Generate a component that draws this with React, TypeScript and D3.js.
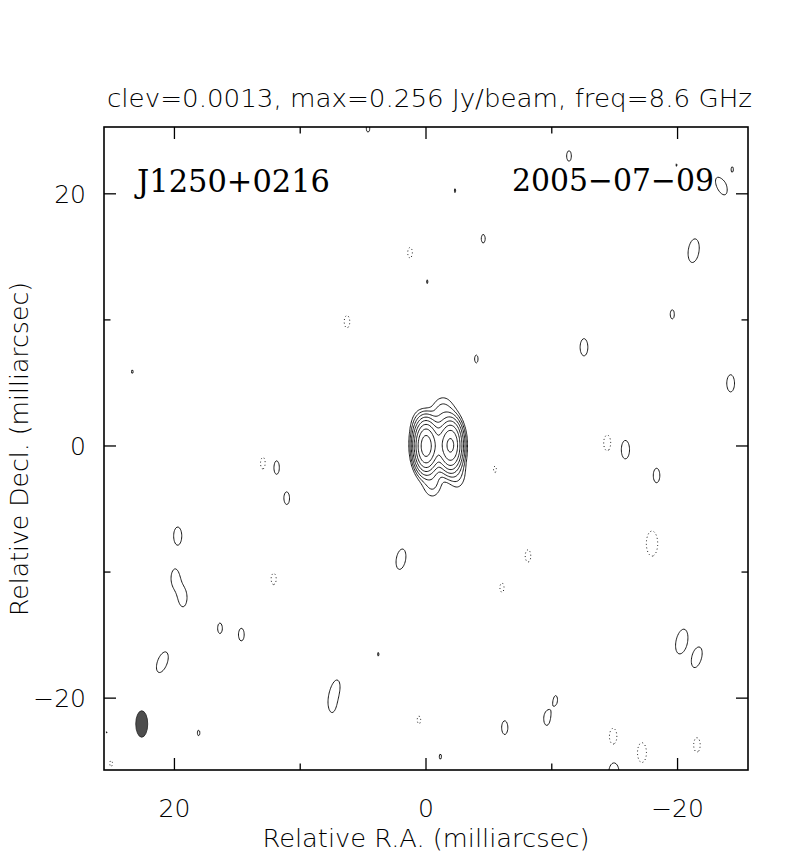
import React, { useMemo } from "react";
import * as d3 from "d3";

const WIDTH = 789;
const HEIGHT = 857;

// Map extents in milliarcsec (RA increases to the left)
const raRange = [25.6, -25.6];
const decRange = [25.3, -25.7];

const title = "clev=0.0013, max=0.256 Jy/beam, freq=8.6 GHz";
const sourceName = "J1250+0216";
const obsDate = "2005\u221207\u221209";
const xLabel = "Relative R.A. (milliarcsec)";
const yLabel = "Relative Decl. (milliarcsec)";

const majorTicks = [20, 0, -20];
const minorTicks = [10, -10];
const tickLabels = ["20", "0", "\u221220"];

// Contour levels: clev * 2^n (Jy/beam)
const clev = 0.0013;
const levelMultipliers = [1, 2, 4, 8, 16, 32, 64, 128];
const negativeMultipliers = [1];

// Restoring beam (mas, deg)
const beamMaj = 2.1;
const beamMin = 0.95;
const beamPA = 0;
const beamPos = [22.6, -22.05];

// Source model components (Jy/beam, mas)
const srcX = [0, -1.95, -0.95, -1.35, -0.5, -2.5, 0.6];
const srcY = [0, 0.05, 0.1, 2.6, -2.8, -2.2, 1.6];
const srcPeak = [0.2535, 0.198, 0.03, 0.0036, 0.0033, 0.0026, 0.002];
const srcMaj = [2.1, 2.1, 2.2, 2.0, 2.0, 2.0, 2.0];
const srcMin = [0.98, 1.0, 1.0, 1.4, 1.2, 1.1, 1.0];
const srcPA = [0, 0, 0, 0, 0, 0, 0];

// Positive residual peaks (mJy/beam)
const posX = [-11.37, -4.55, -21.28, -19.58, -12.56, -24.22, -4.0, -15.85, -18.33, 11.92, 11.07, 19.74, 19.95, 19.32, 1.99, 16.38, 14.68, 20.96, -20.33, -21.53, 7.15, 7.47, -6.26, -9.59, -14.94, -23.45, -24.35, 4.61, -2.31, -0.1, 23.35, 3.79, -1.14, -10.33, 18.08, 25.36, -19.93];
const posY = [23.0, 16.44, 15.49, 10.44, 7.83, 4.97, 6.9, -0.29, -2.34, -1.69, -4.15, -7.14, -10.47, -12.05, -8.98, -14.46, -14.96, -17.15, -15.51, -16.76, -19.19, -20.62, -22.34, -21.65, -26.0, 20.62, 21.94, 25.2, 20.25, 13.03, 5.89, -16.52, -24.64, -20.09, -22.76, -22.76, 22.28];
const posPeak = [1.452, 1.401, 2.279, 1.415, 1.742, 1.742, 1.383, 1.826, 1.603, 1.603, 1.515, 1.791, 1.75, 1.75, 1.982, 1.452, 1.525, 2.071, 2.43, 2.026, 1.6, 1.383, 1.568, 1.515, 2.25, 1.826, 1.336, 1.383, 1.32, 1.32, 1.32, 1.32, 1.336, 1.336, 1.344, 1.336, 1.313];
const posPA = [0, 0, -8, 0, 0, 0, 0, 0, 0, 0, 0, 0, 0, 0, -10, 0, 0, -20, -12, -15, -10, 0, 0, 0, 0, 25, 0, 0, 0, 0, 0, 0, 0, 0, 0, 0, 0];

// Negative residual peaks (magnitudes, mJy/beam)
const negX = [1.27, 6.28, 12.93, -14.41, -5.48, 12.11, -8.11, -6.04, -17.97, 0.56, -14.88, -17.17, -21.54, 25.04];
const negY = [15.33, 9.86, -1.37, 0.24, -1.85, -10.55, -8.72, -11.24, -7.74, -21.73, -23.05, -24.32, -23.71, -25.14];
const negPeak = [1.452, 1.515, 1.546, 1.668, 1.357, 1.478, 1.515, 1.415, 2.43, 1.383, 1.712, 1.92, 1.603, 1.383];

const PLOT = { left: 104, right: 748, top: 127, bottom: 770 };

const GRID_STEP = 0.1;
const GX0 = 26.0;
const GY0 = 26.0;
const NX = 521;
const NY = 526;

function addGauss(values: Float64Array, cx: number, cy: number, peak: number, maj: number, min: number, paDeg: number) {
  const sMaj = maj / 2.35482;
  const sMin = min / 2.35482;
  const th = (paDeg * Math.PI) / 180;
  const s = Math.sin(th);
  const c = Math.cos(th);
  const r = 5 * sMaj;
  const i0 = Math.max(0, Math.floor((GX0 - cx - r) / GRID_STEP));
  const i1 = Math.min(NX - 1, Math.ceil((GX0 - cx + r) / GRID_STEP));
  const j0 = Math.max(0, Math.floor((GY0 - cy - r) / GRID_STEP));
  const j1 = Math.min(NY - 1, Math.ceil((GY0 - cy + r) / GRID_STEP));
  for (let j = j0; j <= j1; j++) {
    const dy = GY0 - j * GRID_STEP - cy;
    for (let i = i0; i <= i1; i++) {
      const dx = GX0 - i * GRID_STEP - cx;
      const v = dx * s + dy * c;
      const u = dx * c - dy * s;
      values[j * NX + i] += peak * Math.exp(-0.5 * ((u * u) / (sMin * sMin) + (v * v) / (sMaj * sMaj)));
    }
  }
}

export default function App() {
  const x = d3.scaleLinear().domain(raRange).range([PLOT.left, PLOT.right]);
  const y = d3.scaleLinear().domain(decRange).range([PLOT.top, PLOT.bottom]);

  const { posPaths, negPaths } = useMemo(() => {
    const values = new Float64Array(NX * NY);
    srcX.forEach((_, k) => addGauss(values, srcX[k], srcY[k], srcPeak[k], srcMaj[k], srcMin[k], srcPA[k]));
    posX.forEach((_, k) => addGauss(values, posX[k], posY[k], posPeak[k] / 1000, beamMaj, beamMin, beamPA + posPA[k]));
    negX.forEach((_, k) => addGauss(values, negX[k], negY[k], -negPeak[k] / 1000, beamMaj, beamMin, beamPA));

    const transform = d3.geoTransform({
      point: function (px: number, py: number) {
        (this as any).stream.point(x(GX0 - (px - 0.5) * GRID_STEP), y(GY0 - (py - 0.5) * GRID_STEP));
      },
    });
    const path = d3.geoPath(transform);
    const gen = d3.contours().size([NX, NY]);
    const pos = gen.thresholds(levelMultipliers.map((m) => m * clev))(Array.from(values));
    const negVals = Array.from(values, (v) => -v);
    const neg = d3.contours().size([NX, NY]).thresholds(negativeMultipliers.map((m) => m * clev))(negVals);
    return {
      posPaths: pos.map((c) => path(c as any) || ""),
      negPaths: neg.map((c) => path(c as any) || ""),
    };
  }, []);

  const beamCx = x(beamPos[0]);
  const beamCy = y(beamPos[1]);
  const beamRx = Math.abs(x(beamMin / 2) - x(0));
  const beamRy = Math.abs(y(beamMaj / 2) - y(0));

  const sans = "'DejaVu Sans', sans-serif";
  const serif = "'DejaVu Serif', 'Liberation Serif', serif";

  return (
    <svg
      width={WIDTH}
      height={HEIGHT}
      viewBox={`0 0 ${WIDTH} ${HEIGHT}`}
      style={{ position: "absolute", left: 0, top: 0, background: "#fff" }}
    >
      <defs>
        <clipPath id="plotclip">
          <rect x={PLOT.left} y={PLOT.top} width={PLOT.right - PLOT.left} height={PLOT.bottom - PLOT.top} />
        </clipPath>
      </defs>
      <rect x={0} y={0} width={WIDTH} height={HEIGHT} fill="#fff" />

      <text x={107} y={107} fontFamily={sans} fontWeight={200} fontSize={24} textLength={645} lengthAdjust="spacingAndGlyphs" fill="#000">
        {title}
      </text>

      <g clipPath="url(#plotclip)">
        {posPaths.map((d, i) => (
          <path key={"p" + i} d={d} fill="none" stroke="#000" strokeWidth={0.9} />
        ))}
        {negPaths.map((d, i) => (
          <path key={"n" + i} d={d} fill="none" stroke="#000" strokeWidth={0.9} strokeDasharray="1 2.6" />
        ))}
        <ellipse
          cx={beamCx}
          cy={beamCy}
          rx={beamRx}
          ry={beamRy}
          transform={`rotate(${-beamPA} ${beamCx} ${beamCy})`}
          fill="#4d4d4d"
          stroke="#222"
          strokeWidth={0.8}
        />
      </g>

      {/* frame */}
      <rect
        x={PLOT.left}
        y={PLOT.top}
        width={PLOT.right - PLOT.left}
        height={PLOT.bottom - PLOT.top}
        fill="none"
        stroke="#000"
        strokeWidth={1.6}
      />

      {/* ticks */}
      <g stroke="#000" strokeWidth={1.3}>
        {majorTicks.map((v) => (
          <g key={"mx" + v}>
            <line x1={x(v)} x2={x(v)} y1={PLOT.bottom} y2={PLOT.bottom - 12} />
            <line x1={x(v)} x2={x(v)} y1={PLOT.top} y2={PLOT.top + 12} />
            <line x1={PLOT.left} x2={PLOT.left + 12} y1={y(v)} y2={y(v)} />
            <line x1={PLOT.right} x2={PLOT.right - 12} y1={y(v)} y2={y(v)} />
          </g>
        ))}
        {minorTicks.map((v) => (
          <g key={"mn" + v}>
            <line x1={x(v)} x2={x(v)} y1={PLOT.bottom} y2={PLOT.bottom - 6.5} />
            <line x1={x(v)} x2={x(v)} y1={PLOT.top} y2={PLOT.top + 6.5} />
            <line x1={PLOT.left} x2={PLOT.left + 6.5} y1={y(v)} y2={y(v)} />
            <line x1={PLOT.right} x2={PLOT.right - 6.5} y1={y(v)} y2={y(v)} />
          </g>
        ))}
      </g>

      {/* tick labels */}
      <g fontFamily={sans} fontWeight={200} fontSize={25} fill="#000">
        {majorTicks.map((v, i) => (
          <text key={"bx" + v} x={x(v)} y={817} textAnchor="middle">
            {tickLabels[i]}
          </text>
        ))}
        {majorTicks.map((v, i) => (
          <text key={"ly" + v} x={86} y={y(v) + 9} textAnchor="end">
            {tickLabels[i]}
          </text>
        ))}
      </g>

      {/* axis labels */}
      <text x={426} y={847} textAnchor="middle" fontFamily={sans} fontWeight={200} fontSize={24} textLength={327} lengthAdjust="spacingAndGlyphs">
        {xLabel}
      </text>
      <text
        transform={`translate(28, 449) rotate(-90)`}
        textAnchor="middle"
        fontFamily={sans}
        fontWeight={200}
        fontSize={24}
        textLength={334}
        lengthAdjust="spacingAndGlyphs"
      >
        {yLabel}
      </text>

      {/* annotations */}
      <text x={137} y={192} fontFamily={serif} fontSize={31} textLength={193} lengthAdjust="spacingAndGlyphs">
        {sourceName}
      </text>
      <text x={512} y={191} fontFamily={serif} fontSize={31} textLength={202} lengthAdjust="spacingAndGlyphs">
        {obsDate}
      </text>
    </svg>
  );
}
